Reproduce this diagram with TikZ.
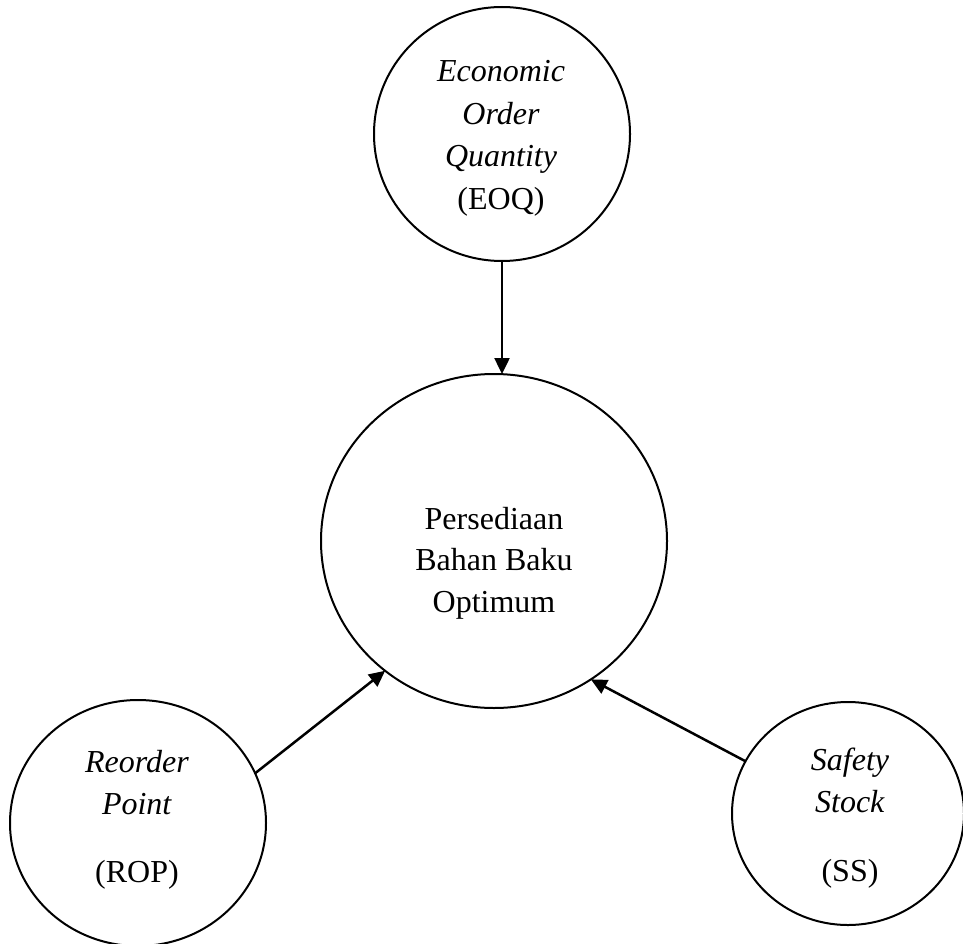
\documentclass[tikz,border=0pt]{standalone}
\usepackage{fontspec}
\setmainfont{Liberation Serif}
\usetikzlibrary{arrows.meta,shapes.geometric}
\begin{document}
\begin{tikzpicture}[x=1pt,y=1pt,
  circ/.style={draw, ellipse, line width=2pt, inner sep=0pt, outer sep=0pt},
  arr/.style={-{Triangle[length=16pt,width=15pt]}, line width=2.5pt},
  lbl/.style={inner sep=0pt, anchor=base, font=\fontsize{32}{42.5}\selectfont}]
\useasboundingbox (0,0) rectangle (963,-944);
% circles
\node[circ, minimum width=256pt, minimum height=254pt] (eoq) at (502,-134) {};
\node[circ, minimum width=346pt, minimum height=334pt] (mid) at (494,-541) {};
\node[circ, minimum width=256pt, minimum height=246pt] (rop) at (138,-823) {};
\node[circ, minimum width=232pt, minimum height=223pt] (ss) at (848,-813.5) {};
% texts
\node[lbl] (eoqt) at (501,-82) {\begin{tabular}[t]{@{}c@{}}\textit{Economic}\\ \textit{Order}\\ \textit{Quantity}\\ (EOQ)\end{tabular}};
\node[lbl, font=\fontsize{32}{41.5}\selectfont] (midt) at (494,-529) {\begin{tabular}[t]{@{}c@{}}Persediaan\\ Bahan Baku\\ Optimum\end{tabular}};
\node[lbl] (ropt) at (137,-772) {\begin{tabular}[t]{@{}c@{}}\textit{Reorder}\\ \textit{Point}\\[25pt] (ROP)\end{tabular}};
\node[lbl] (sst) at (850,-770) {\begin{tabular}[t]{@{}c@{}}\textit{Safety}\\ \textit{Stock}\\[26pt] (SS)\end{tabular}};
% arrows
\draw[arr] (eoq.south) -- (eoq.south |- mid.north);
\draw[arr] (rop.23.2) -- (mid.230.2);
\draw[arr] (ss.153.4) -- (mid.305.9);
\end{tikzpicture}
\end{document}
